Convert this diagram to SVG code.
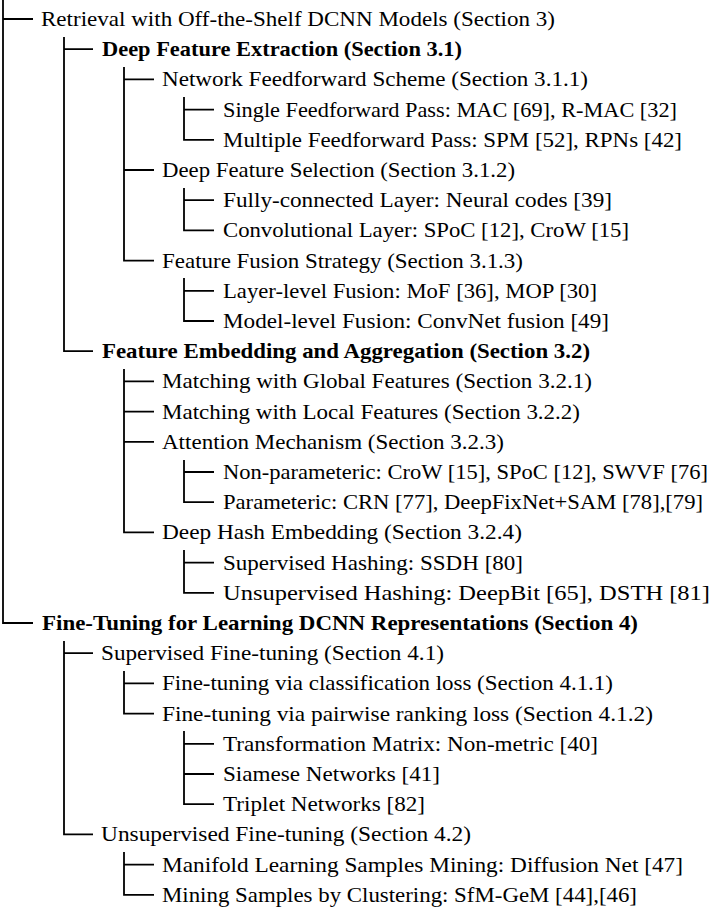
<svg xmlns="http://www.w3.org/2000/svg" width="714" height="907" viewBox="0 0 714 907">
<style>
text{font-family:'Liberation Serif','DejaVu Serif','Times New Roman',serif;font-size:22px;fill:#000}
.b{font-weight:bold}
#connectors path{fill:none;stroke:#000;stroke-width:1.8;stroke-linejoin:miter;stroke-linecap:butt}
</style>
<rect width="714" height="907" fill="#fff"/>
<g id="connectors">
<path d="M3,0V623H33M3,19H33"/>
<path d="M64,37V351.2H93M64,49.2H93"/>
<path d="M124,67V260.6H154M124,79.4H154M124,170H154"/>
<path d="M184,97V139.8H214M184,109.6H214"/>
<path d="M184,188V230.4H214M184,200.2H214"/>
<path d="M184,278V321H214M184,290.8H214"/>
<path d="M124,369V532.4H154M124,381.4H154M124,411.6H154M124,441.8H154"/>
<path d="M184,460V502.2H214M184,472H214"/>
<path d="M184,550V592.8H214M184,562.6H214"/>
<path d="M64,641V834.4H93M64,653.2H93"/>
<path d="M124,671V713.6H154M124,683.4H154"/>
<path d="M184,731V804.2H214M184,743.8H214M184,774H214"/>
<path d="M124,852V894.8H154M124,864.6H154"/>
</g>
<g id="n0"><text x="41" y="26" textLength="514" lengthAdjust="spacingAndGlyphs">Retrieval with Off-the-Shelf DCNN Models (Section 3)</text></g>
<g id="n1"><text class="b" x="102" y="56.2" textLength="360" lengthAdjust="spacingAndGlyphs">Deep Feature Extraction (Section 3.1)</text></g>
<g id="n2"><text x="162" y="86.4" textLength="426" lengthAdjust="spacingAndGlyphs">Network Feedforward Scheme (Section 3.1.1)</text></g>
<g id="n3"><text x="223" y="116.6" textLength="454" lengthAdjust="spacingAndGlyphs">Single Feedforward Pass: MAC [69], R-MAC [32]</text></g>
<g id="n4"><text x="223" y="146.8" textLength="459" lengthAdjust="spacingAndGlyphs">Multiple Feedforward Pass: SPM [52], RPNs [42]</text></g>
<g id="n5"><text x="162" y="177" textLength="353" lengthAdjust="spacingAndGlyphs">Deep Feature Selection (Section 3.1.2)</text></g>
<g id="n6"><text x="223" y="207.2" textLength="389" lengthAdjust="spacingAndGlyphs">Fully-connected Layer: Neural codes [39]</text></g>
<g id="n7"><text x="223" y="237.4" textLength="406" lengthAdjust="spacingAndGlyphs">Convolutional Layer: SPoC [12], CroW [15]</text></g>
<g id="n8"><text x="162" y="267.6" textLength="361" lengthAdjust="spacingAndGlyphs">Feature Fusion Strategy (Section 3.1.3)</text></g>
<g id="n9"><text x="223" y="297.8" textLength="374" lengthAdjust="spacingAndGlyphs">Layer-level Fusion: MoF [36], MOP [30]</text></g>
<g id="n10"><text x="223" y="328" textLength="386" lengthAdjust="spacingAndGlyphs">Model-level Fusion: ConvNet fusion [49]</text></g>
<g id="n11"><text class="b" x="102" y="358.2" textLength="488" lengthAdjust="spacingAndGlyphs">Feature Embedding and Aggregation (Section 3.2)</text></g>
<g id="n12"><text x="162" y="388.4" textLength="430" lengthAdjust="spacingAndGlyphs">Matching with Global Features (Section 3.2.1)</text></g>
<g id="n13"><text x="162" y="418.6" textLength="418" lengthAdjust="spacingAndGlyphs">Matching with Local Features (Section 3.2.2)</text></g>
<g id="n14"><text x="162" y="448.8" textLength="342" lengthAdjust="spacingAndGlyphs">Attention Mechanism (Section 3.2.3)</text></g>
<g id="n15"><text x="223" y="479" textLength="485" lengthAdjust="spacingAndGlyphs">Non-parameteric: CroW [15], SPoC [12], SWVF [76]</text></g>
<g id="n16"><text x="223" y="509.2" textLength="480" lengthAdjust="spacingAndGlyphs">Parameteric: CRN [77], DeepFixNet+SAM [78],[79]</text></g>
<g id="n17"><text x="162" y="539.4" textLength="360" lengthAdjust="spacingAndGlyphs">Deep Hash Embedding (Section 3.2.4)</text></g>
<g id="n18"><text x="223" y="569.6" textLength="300" lengthAdjust="spacingAndGlyphs">Supervised Hashing: SSDH [80]</text></g>
<g id="n19"><text x="223" y="599.8" textLength="487" lengthAdjust="spacingAndGlyphs">Unsupervised Hashing: DeepBit [65], DSTH [81]</text></g>
<g id="n20"><text class="b" x="42" y="630" textLength="596" lengthAdjust="spacingAndGlyphs">Fine-Tuning for Learning DCNN Representations (Section 4)</text></g>
<g id="n21"><text x="101" y="660.2" textLength="343" lengthAdjust="spacingAndGlyphs">Supervised Fine-tuning (Section 4.1)</text></g>
<g id="n22"><text x="162" y="690.4" textLength="451" lengthAdjust="spacingAndGlyphs">Fine-tuning via classification loss (Section 4.1.1)</text></g>
<g id="n23"><text x="162" y="720.6" textLength="491" lengthAdjust="spacingAndGlyphs">Fine-tuning via pairwise ranking loss (Section 4.1.2)</text></g>
<g id="n24"><text x="223" y="750.8" textLength="375" lengthAdjust="spacingAndGlyphs">Transformation Matrix: Non-metric [40]</text></g>
<g id="n25"><text x="223" y="781" textLength="217" lengthAdjust="spacingAndGlyphs">Siamese Networks [41]</text></g>
<g id="n26"><text x="223" y="811.2" textLength="202" lengthAdjust="spacingAndGlyphs">Triplet Networks [82]</text></g>
<g id="n27"><text x="101" y="841.4" textLength="370" lengthAdjust="spacingAndGlyphs">Unsupervised Fine-tuning (Section 4.2)</text></g>
<g id="n28"><text x="162" y="871.6" textLength="521" lengthAdjust="spacingAndGlyphs">Manifold Learning Samples Mining: Diffusion Net [47]</text></g>
<g id="n29"><text x="162" y="901.8" textLength="475" lengthAdjust="spacingAndGlyphs">Mining Samples by Clustering: SfM-GeM [44],[46]</text></g>
</svg>
